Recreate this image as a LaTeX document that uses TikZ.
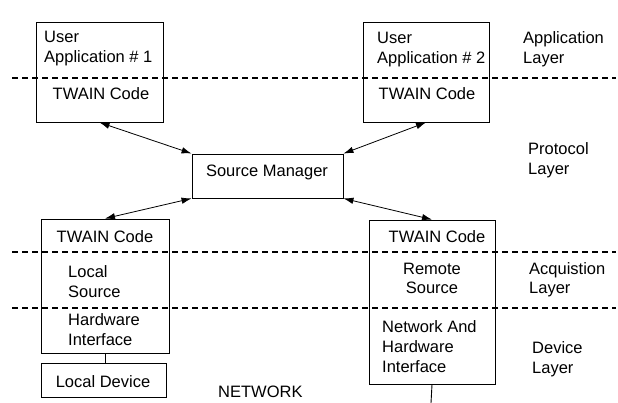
\documentclass[tikz,border=0pt]{standalone}
\usepackage{fontspec}
\setmainfont{Liberation Sans}
\usetikzlibrary{arrows.meta}

\begin{document}
\begin{tikzpicture}[x=1pt, y=-1pt,
  box/.style={draw, line width=0.9pt, inner sep=0pt},
  txt/.style={inner sep=0pt, align=left, font=\fontsize{16.5}{20}\selectfont},
  layer/.style={dash pattern=on 6pt off 4pt, line width=1.1pt},
  link/.style={{Latex[length=10pt,width=6.5pt]}-{Latex[length=10pt,width=6.5pt]}, line width=0.8pt}]
\useasboundingbox (0,0) rectangle (618,403);

% boxes
\node [box, minimum width=127, minimum height=100] (app1) at (99.5, 72) {};
\node [box, minimum width=126, minimum height=100] (app2) at (426, 72) {};
\node [box, minimum width=151, minimum height=44] (sm) at (267.5, 176) {};
\node [box, minimum width=128, minimum height=134] (lsrc) at (105, 286) {};
\node [box, minimum width=126, minimum height=164] (rsrc) at (432, 302) {};
\node [box, minimum width=125, minimum height=34] (ldev) at (103.5, 380) {};

% layer lines
\draw [layer] (12, 78) -- (616, 78);
\draw [layer] (12, 252) -- (616, 252);
\draw [layer] (12, 308) -- (616, 308);

% texts (base = last line)
\node [txt, anchor=base west] (user1) at (44, 63) {User\\Application \# 1};
\node [txt, anchor=base] (twain1) at (101, 100) {TWAIN Code};
\node [txt, anchor=base west] (user2) at (377, 64) {User\\Application \# 2};
\node [txt, anchor=base] (twain2) at (427, 100) {TWAIN Code};
\node [txt, anchor=base] (smtext) at (267, 177) {Source Manager};
\node [txt, anchor=base] (twain3) at (105, 243) {TWAIN Code};
\node [txt, anchor=base west] (local) at (68, 297) {Local\\Source};
\node [txt, anchor=base west] (hwif) at (68, 345) {Hardware\\Interface};
\node [txt, anchor=base] (devtext) at (103, 387) {Local Device};
\node [txt, anchor=base west] (net) at (218, 397) {NETWORK};
\node [txt, anchor=base] (twain4) at (437, 243) {TWAIN Code};
\node [txt, anchor=base, align=center] (remote) at (432, 294) {Remote\\Source};
\node [txt, anchor=base west] (nethw) at (382, 372) {Network And\\Hardware\\Interface};

\node [txt, anchor=base west] (applayer) at (523, 64) {Application\\Layer};
\node [txt, anchor=base west] (protlayer) at (528, 175) {Protocol\\Layer};
\node [txt, anchor=base west] (acqlayer) at (529, 294) {Acquistion\\Layer};
\node [txt, anchor=base west] (devlayer) at (532, 373) {Device\\Layer};

% connectors
\draw [link] (app1.south) -- (sm.north west);
\draw [link] (app2.south) -- (sm.north east);
\draw [link] (sm.south west) -- (lsrc.north);
\draw [link] (sm.south east) -- (rsrc.north);
\draw [line width=0.9pt] (lsrc.south) -- (lsrc.south |- ldev.north);
\coordinate (netend) at (431, 403);
\draw [line width=0.9pt] (rsrc.south) -- (netend);
\end{tikzpicture}
\end{document}
